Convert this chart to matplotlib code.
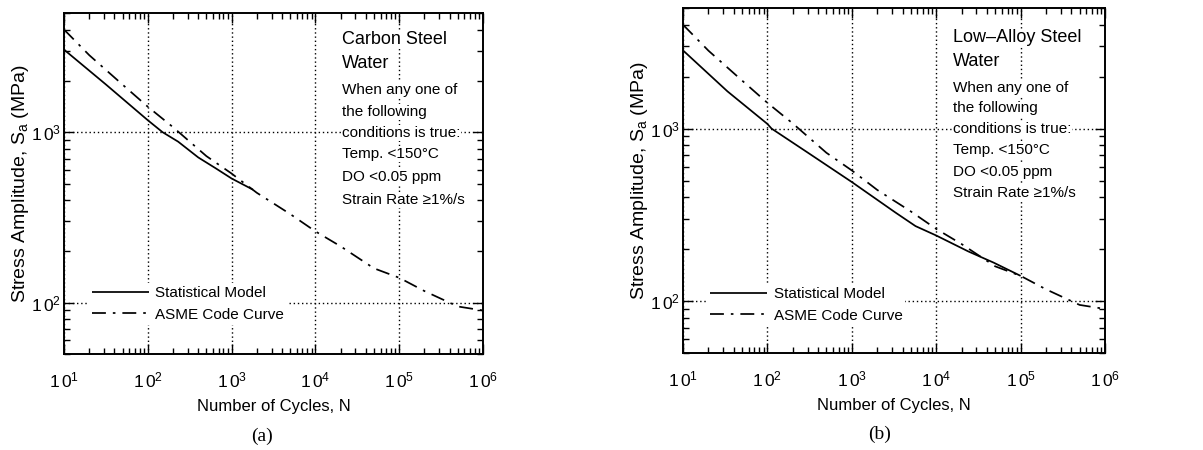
import matplotlib
matplotlib.use('Agg')
import matplotlib.pyplot as plt
from matplotlib.ticker import LogLocator, FuncFormatter, NullFormatter
import numpy as np

plt.rcParams['font.family'] = ['Liberation Sans', 'DejaVu Sans']
plt.rcParams['mathtext.fontset'] = 'custom'
plt.rcParams['mathtext.rm'] = 'Liberation Sans'
plt.rcParams['mathtext.it'] = 'Liberation Sans:italic'
plt.rcParams['mathtext.bf'] = 'Liberation Sans:bold'

# ---------------- data ----------------
asme_cycles = [10, 20, 50, 100, 200, 500, 1e3, 2e3, 5e3, 1e4, 2e4, 5e4, 1e5, 2e5, 5e5, 1e6]
asme_stress = [4000, 2830, 1900, 1410, 1070, 724, 572, 441, 331, 262, 214, 159, 140, 117, 95, 90]

cs_cycles = [10, 31.6, 100, 150, 230, 400, 646, 1000, 1800]
cs_stress = [3050, 1905, 1175, 1000, 880, 711, 614, 535, 460]

las_cycles = [10, 33.6, 100, 112, 304, 1000, 3290, 5690, 1e4, 2.4e4, 4.8e4, 1e5]
las_stress = [2840, 1644, 1064, 1000, 723, 490, 326, 272, 240, 194, 167, 140]

legend_labels = ['Statistical Model', 'ASME Code Curve']
heads_a = ['Carbon Steel', 'Water']
heads_b = ['Low\u2013Alloy Steel', 'Water']
conditions = ['When any one of', 'the following', 'conditions is true:',
              'Temp. <150°C', 'DO <0.05 ppm', 'Strain Rate ≥1%/s']
x_label = 'Number of Cycles, N'
y_label = 'Stress Amplitude, S$_\\mathregular{a}$ (MPa)'
panel_labels = ['(a)', '(b)']

# ---------------- figure ----------------
W, H = 1203, 450
fig = plt.figure(figsize=(W / 100, H / 100), dpi=100)


def px_axes(x0, x1, ytop, ybot):
    return fig.add_axes([x0 / W, 1 - ybot / H, (x1 - x0) / W, (ybot - ytop) / H])


ax_a = px_axes(64, 483, 13, 354)
ax_b = px_axes(683, 1105, 8, 353)


def fmt(v, pos):
    e = int(round(np.log10(v)))
    return r'$\mathregular{1\,0^{%d}}$' % e


dashdot = (0, (8, 4, 1.5, 4))

panels = [
    (ax_a, cs_cycles, cs_stress, heads_a, 0.6635, 13, 354,
     [40, 63, 90, 112, 133, 154, 177, 200], (0.0597, 0.208)),
    (ax_b, las_cycles, las_stress, heads_b, 0.64, 8, 353,
     [38, 62, 88, 108, 129, 150, 172, 193], (0.057, 0.20)),
]

for ax, sc, ss, heads, note_x, top_px, bottom_px, note_y, leg_anchor in panels:
    ax.set_xscale('log')
    ax.set_yscale('log')
    ax.set_xlim(10, 1e6)
    ax.set_ylim(50, 5000)
    l1, = ax.plot(sc, ss, color='black', lw=1.25, solid_capstyle='butt',
                  solid_joinstyle='round')
    l2, = ax.plot(asme_cycles, asme_stress, color='black', lw=1.25, linestyle=dashdot)

    ax.xaxis.set_major_locator(LogLocator(base=10, numticks=10))
    ax.xaxis.set_minor_locator(LogLocator(base=10, subs=np.arange(2, 10), numticks=20))
    ax.yaxis.set_major_locator(LogLocator(base=10, numticks=10))
    ax.yaxis.set_minor_locator(LogLocator(base=10, subs=np.arange(2, 10), numticks=20))
    ax.xaxis.set_major_formatter(FuncFormatter(fmt))
    ax.yaxis.set_major_formatter(FuncFormatter(fmt))
    ax.xaxis.set_minor_formatter(NullFormatter())
    ax.yaxis.set_minor_formatter(NullFormatter())

    ax.grid(True, which='major', color='black', linestyle=(0, (1, 2)), lw=1.0)
    ax.tick_params(which='both', direction='in', top=True, right=True, width=1.0)
    ax.tick_params(which='major', length=7, labelsize=12.5)
    ax.tick_params(which='minor', length=4)
    ax.tick_params(axis='x', which='major', pad=12)
    ax.tick_params(axis='y', which='major', pad=2)
    for s in ax.spines.values():
        s.set_linewidth(1.4)

    ax.set_xlabel(x_label, fontsize=12, labelpad=6)
    ax.set_ylabel(y_label, fontsize=14, labelpad=0)

    leg = ax.legend([l1, l2], legend_labels, loc='upper left', bbox_to_anchor=leg_anchor,
                    borderaxespad=0, borderpad=0.2, frameon=True, fontsize=11,
                    handlelength=3.7, handletextpad=0.45, labelspacing=0.5,
                    fancybox=False)
    leg.get_frame().set_facecolor('white')
    leg.get_frame().set_edgecolor('none')
    leg.get_frame().set_alpha(1)

    lines = heads + conditions
    sizes = [13, 13] + [11] * len(conditions)
    for t, yp, fs in zip(lines, note_y, sizes):
        yf = (bottom_px - yp) / (bottom_px - top_px)
        ax.text(note_x, yf, t, transform=ax.transAxes, fontsize=fs, ha='left', va='center',
                bbox=dict(facecolor='white', edgecolor='none', pad=0.5), zorder=5)

fig.text(262 / W, 1 - 436 / H, panel_labels[0], fontsize=14, family='Liberation Serif',
         ha='center', va='center')
fig.text(880 / W, 1 - 434 / H, panel_labels[1], fontsize=14, family='Liberation Serif',
         ha='center', va='center')

fig.savefig('out.png', dpi=100)
